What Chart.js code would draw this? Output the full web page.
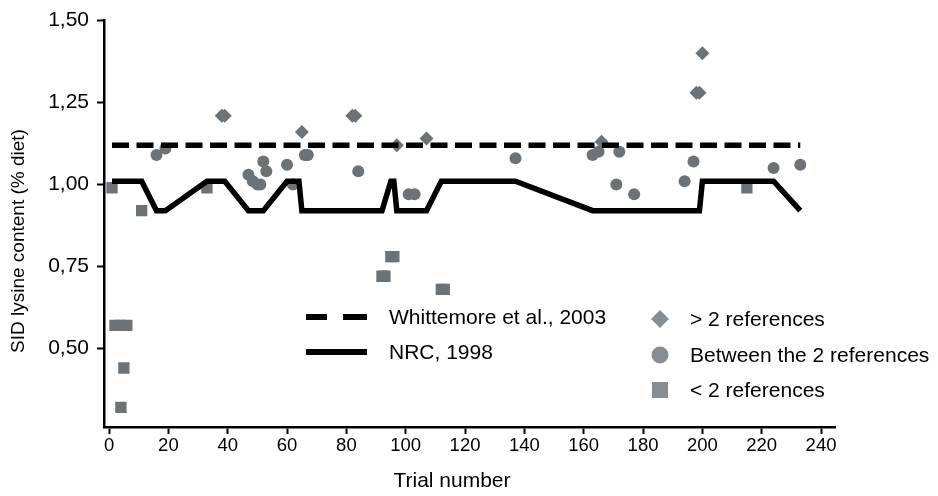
<!DOCTYPE html>
<html>
<head>
<meta charset="utf-8">
<title>SID lysine content by trial</title>
<script src="https://cdn.jsdelivr.net/npm/chart.js@4.4.0/dist/chart.umd.min.js"></script>
<style>
  body { margin: 0; background: #fff; }
  #wrap { width: 938px; height: 496px; position: relative; }
</style>
</head>
<body>
<div id="wrap"><canvas id="lysineChart"></canvas></div>
<script>
'use strict';

(function () {
  // Trial number / SID lysine (% diet), one pair of arrays per category
  var aboveX = [38, 39, 65, 82, 83, 97, 107, 166, 198, 199, 200];
  var aboveY = [1.21, 1.21, 1.16, 1.21, 1.21, 1.12, 1.14, 1.13, 1.28, 1.28, 1.40];

  var betweenX = [16, 19, 47, 48.5, 50, 51, 52, 53, 60, 62, 66, 67, 84, 101, 103,
                  137, 163, 165, 171, 172, 177, 194, 197, 224, 233];
  var betweenY = [1.09, 1.11, 1.03, 1.01, 1.00, 1.00, 1.07, 1.04, 1.06, 1.00, 1.09, 1.09, 1.04, 0.97, 0.97,
                  1.08, 1.09, 1.10, 1.00, 1.10, 0.97, 1.01, 1.07, 1.05, 1.06];

  var belowX = [1, 2, 4, 6, 5, 4, 11, 33, 92, 93, 95, 96, 112, 113, 215];
  var belowY = [0.99, 0.57, 0.57, 0.57, 0.44, 0.32, 0.92, 0.99, 0.72, 0.72, 0.78, 0.78, 0.68, 0.68, 0.99];

  // Reference recommendations
  var whittemoreX = [1, 233];
  var whittemoreY = [1.12, 1.12];

  var nrcX = [1, 11, 16, 19, 33, 39, 47, 52, 60, 64, 65, 92, 95, 96, 97, 107, 112, 137, 163, 199, 200, 224, 233];
  var nrcY = [1.01, 1.01, 0.92, 0.92, 1.01, 1.01, 0.92, 0.92, 1.01, 1.01, 0.92, 0.92, 1.01, 1.01, 0.92, 0.92,
              1.01, 1.01, 0.92, 0.92, 1.01, 1.01, 0.92];

  var xTicks = [0, 20, 40, 60, 80, 100, 120, 140, 160, 180, 200, 220, 240];
  var yTicks = [0.50, 0.75, 1.00, 1.25, 1.50];

  var markerColor = '#6c7276';
  var legendMarkerColor = '#888d91';
  var fontFamily = "'Liberation Sans', Arial, sans-serif";

  function toPoints(xs, ys) {
    var pts = [];
    for (var i = 0; i < xs.length; i++) {
      pts.push({ x: xs[i], y: ys[i] });
    }
    return pts;
  }

  function fixedTicks(values) {
    return function (scale) {
      scale.ticks = values.map(function (v) { return { value: v }; });
    };
  }

  // Axis titles and the two-column legend are drawn by hand
  var figureText = {
    id: 'figureText',
    afterDraw: function (chart) {
      var ctx = chart.ctx;
      ctx.save();
      ctx.fillStyle = '#000';
      ctx.textBaseline = 'middle';

      ctx.font = '21px ' + fontFamily;
      ctx.textAlign = 'center';
      ctx.fillText('Trial number', 452, 481);

      ctx.save();
      ctx.translate(19, 241);
      ctx.rotate(-Math.PI / 2);
      ctx.font = '19px ' + fontFamily;
      ctx.fillText('SID lysine content (% diet)', 0, 0);
      ctx.restore();

      // line samples
      ctx.strokeStyle = '#000';
      ctx.lineWidth = 6;
      ctx.lineCap = 'butt';
      ctx.beginPath();
      ctx.moveTo(306, 317); ctx.lineTo(327, 317);
      ctx.moveTo(343, 317); ctx.lineTo(367, 317);
      ctx.moveTo(306, 352); ctx.lineTo(367, 352);
      ctx.stroke();

      ctx.textAlign = 'left';
      ctx.font = '21px ' + fontFamily;
      ctx.fillText('Whittemore et al., 2003', 389, 318);
      ctx.fillText('NRC, 1998', 389, 353);

      // marker samples
      ctx.fillStyle = legendMarkerColor;
      ctx.beginPath();
      ctx.moveTo(660, 310); ctx.lineTo(669, 319); ctx.lineTo(660, 328); ctx.lineTo(651, 319);
      ctx.closePath();
      ctx.fill();
      ctx.beginPath();
      ctx.arc(660, 355, 8.5, 0, Math.PI * 2);
      ctx.fill();
      ctx.fillRect(652, 382, 16, 16);

      ctx.fillStyle = '#000';
      ctx.fillText('> 2 references', 690, 320);
      ctx.fillText('Between the 2 references', 690, 356);
      ctx.fillText('< 2 references', 690, 391);
      ctx.restore();
    }
  };

  var ctx = document.getElementById('lysineChart').getContext('2d');

  var lysineChart = new Chart(ctx, {
    type: 'scatter',
    data: {
      datasets: [
        {
          label: 'Whittemore et al., 2003',
          data: toPoints(whittemoreX, whittemoreY),
          showLine: true,
          borderColor: '#000',
          borderWidth: 5.5,
          borderDash: [17, 7.5],
          borderCapStyle: 'butt',
          pointRadius: 0,
          order: 0
        },
        {
          label: 'NRC, 1998',
          data: toPoints(nrcX, nrcY),
          showLine: true,
          borderColor: '#000',
          borderWidth: 5.5,
          borderJoinStyle: 'miter',
          pointRadius: 0,
          order: 0
        },
        {
          label: '> 2 references',
          data: toPoints(aboveX, aboveY),
          pointStyle: 'rectRot',
          pointRadius: 7,
          pointBorderWidth: 0,
          backgroundColor: markerColor,
          borderColor: markerColor,
          order: 1
        },
        {
          label: 'Between the 2 references',
          data: toPoints(betweenX, betweenY),
          pointStyle: 'circle',
          pointRadius: 6,
          pointBorderWidth: 0,
          backgroundColor: markerColor,
          borderColor: markerColor,
          order: 1
        },
        {
          label: '< 2 references',
          data: toPoints(belowX, belowY),
          pointStyle: 'rect',
          pointRadius: 8,
          pointBorderWidth: 0,
          backgroundColor: markerColor,
          borderColor: markerColor,
          order: 1
        }
      ]
    },
    options: {
      responsive: true,
      maintainAspectRatio: false,
      animation: false,
      layout: {
        padding: { left: 0, top: 16, right: 103, bottom: 0 }
      },
      plugins: {
        legend: { display: false },
        tooltip: { enabled: false }
      },
      scales: {
        x: {
          type: 'linear',
          min: -1.7,
          max: 244.7,
          afterBuildTicks: fixedTicks(xTicks),
          afterFit: function (scale) { scale.height = 69; },
          border: { display: true, color: '#000', width: 2.5 },
          grid: { drawOnChartArea: false, drawTicks: true, tickLength: 7, tickWidth: 2, color: '#000' },
          ticks: {
            color: '#000',
            padding: 1,
            maxRotation: 0,
            font: { family: fontFamily, size: 18.5 }
          }
        },
        y: {
          type: 'linear',
          min: 0.26,
          max: 1.5,
          afterBuildTicks: fixedTicks(yTicks),
          afterFit: function (scale) { scale.width = 104; },
          border: { display: true, color: '#000', width: 2.5 },
          grid: { drawOnChartArea: false, drawTicks: true, tickLength: 7, tickWidth: 2, color: '#000' },
          ticks: {
            color: '#000',
            padding: 8,
            font: { family: fontFamily, size: 21 },
            callback: function (value) {
              return value.toFixed(2).replace('.', ',');
            }
          }
        }
      }
    },
    plugins: [figureText]
  });
})();
</script>
</body>
</html>
